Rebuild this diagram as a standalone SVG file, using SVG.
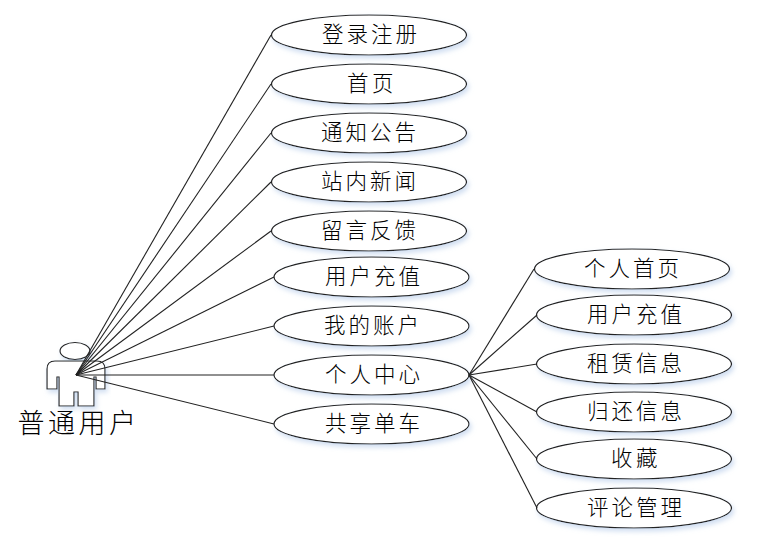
<svg xmlns="http://www.w3.org/2000/svg" width="763" height="551" viewBox="0 0 763 551">
<style>
.n{fill:#fff;stroke:#222;stroke-width:1.2;filter:url(#s)}
.t{font-family:"Noto Sans CJK SC","Noto Sans",sans-serif;font-size:21.500px;font-weight:300;fill:#000;text-anchor:middle;letter-spacing:3px}
.w{letter-spacing:3.500px}
#connectors line{stroke:#222;stroke-width:1.1}
</style>
<defs><filter id="s" x="-10%" y="-30%" width="120%" height="170%"><feDropShadow dx="2" dy="3" stdDeviation="2.500" flood-color="#c4d6ee" flood-opacity="0.8"/></filter></defs>
<rect width="763" height="551" fill="#fff"/>
<g id="actor">
<ellipse cx="75" cy="351" rx="15" ry="8.500" class="n"/>
<path class="n" d="M55 361H97Q105 361 105 369V389H96V377H94V406H78V392H74V406H59V377H57V389H47V369Q47 361 55 361Z"/>
<text x="78.500" y="433" class="t" style="font-size:27px;letter-spacing:3.500px">普通用户</text>
</g>
<g id="n1"><ellipse cx="369" cy="35" rx="97.500" ry="20" class="n"/><text x="371" y="42" class="t">登录注册</text></g>
<g id="n2"><ellipse cx="369" cy="84" rx="97.500" ry="20" class="n"/><text x="372" y="91" class="t w">首页</text></g>
<g id="n3"><ellipse cx="369" cy="133" rx="97.500" ry="20" class="n"/><text x="370" y="140" class="t">通知公告</text></g>
<g id="n4"><ellipse cx="369" cy="182" rx="97.500" ry="20" class="n"/><text x="370" y="189" class="t">站内新闻</text></g>
<g id="n5"><ellipse cx="369" cy="231" rx="97.500" ry="20" class="n"/><text x="370" y="238" class="t">留言反馈</text></g>
<g id="n6"><ellipse cx="371.500" cy="277" rx="97.500" ry="20" class="n"/><text x="374" y="284" class="t">用户充值</text></g>
<g id="n7"><ellipse cx="371.500" cy="326" rx="97.500" ry="20" class="n"/><text x="373" y="333" class="t">我的账户</text></g>
<g id="n8"><ellipse cx="371.500" cy="375" rx="97.500" ry="20" class="n"/><text x="374" y="382" class="t">个人中心</text></g>
<g id="n9"><ellipse cx="371.500" cy="424" rx="97.500" ry="20" class="n"/><text x="374" y="431" class="t">共享单车</text></g>
<g id="m1"><ellipse cx="632" cy="269" rx="97.500" ry="20" class="n"/><text x="633" y="276" class="t">个人首页</text></g>
<g id="m2"><ellipse cx="634" cy="315" rx="97.500" ry="20" class="n"/><text x="636" y="322" class="t">用户充值</text></g>
<g id="m3"><ellipse cx="634" cy="364" rx="97.500" ry="20" class="n"/><text x="636" y="371" class="t">租赁信息</text></g>
<g id="m4"><ellipse cx="634" cy="412" rx="97.500" ry="20" class="n"/><text x="636" y="419" class="t">归还信息</text></g>
<g id="m5"><ellipse cx="634" cy="459" rx="97.500" ry="20" class="n"/><text x="636" y="466" class="t w">收藏</text></g>
<g id="m6"><ellipse cx="634" cy="508" rx="97.500" ry="20" class="n"/><text x="636" y="515" class="t">评论管理</text></g>
<g id="connectors">
<line x1="76" y1="375" x2="271" y2="35"/>
<line x1="76" y1="375" x2="271" y2="84"/>
<line x1="76" y1="375" x2="271" y2="133"/>
<line x1="76" y1="375" x2="271" y2="182"/>
<line x1="76" y1="375" x2="271" y2="231"/>
<line x1="76" y1="375" x2="274" y2="277"/>
<line x1="76" y1="375" x2="274" y2="326"/>
<line x1="76" y1="375" x2="274" y2="375"/>
<line x1="76" y1="375" x2="274" y2="424"/>
<line x1="469" y1="375" x2="534" y2="269"/>
<line x1="469" y1="375" x2="537" y2="315"/>
<line x1="469" y1="375" x2="537" y2="364"/>
<line x1="469" y1="375" x2="537" y2="412"/>
<line x1="469" y1="375" x2="537" y2="459"/>
<line x1="469" y1="375" x2="537" y2="508"/>
</g>
</svg>
